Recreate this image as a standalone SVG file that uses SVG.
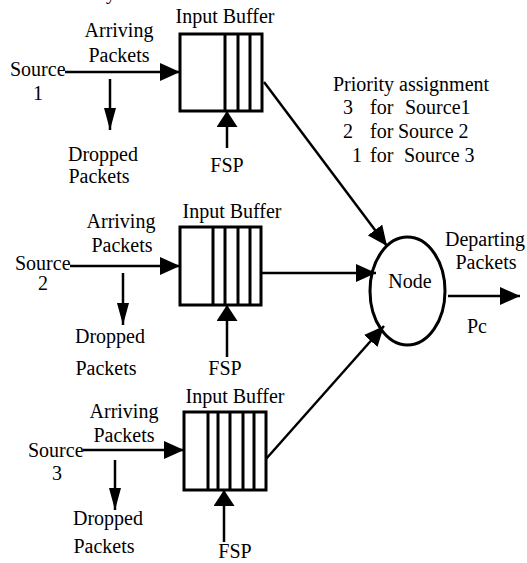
<svg xmlns="http://www.w3.org/2000/svg" width="527" height="563" viewBox="0 0 527 563">
  <style>
    text { font-family: "Liberation Serif", "Times New Roman", serif; font-size: 20px; fill: #000; }
    .mid { text-anchor: middle; }
    .wire { stroke: #000; stroke-width: 2.5; fill: none; }
    .box { stroke: #000; stroke-width: 3; fill: #fff; }
    .cell { stroke: #000; stroke-width: 3; }
    .to-big { marker-end: url(#head-big); }
    .to-drop { marker-end: url(#head-drop); }
    .to-fsp { marker-end: url(#head-fsp); }
  </style>
  <defs>
    <marker id="head-big" markerUnits="userSpaceOnUse" viewBox="0 0 20 18" refX="20" refY="9" markerWidth="20" markerHeight="18" orient="auto">
      <path d="M0,0 L20,9 L0,18 z" fill="#000"/>
    </marker>
    <marker id="head-drop" markerUnits="userSpaceOnUse" viewBox="0 0 22 12" refX="22" refY="6" markerWidth="22" markerHeight="12" orient="auto">
      <path d="M0,0 L22,6 L0,12 z" fill="#000"/>
    </marker>
    <marker id="head-fsp" markerUnits="userSpaceOnUse" viewBox="0 0 16 21" refX="16" refY="10.5" markerWidth="16" markerHeight="21" orient="auto">
      <path d="M0,0 L16,10.5 L0,21 z" fill="#000"/>
    </marker>
  </defs>

  <rect width="527" height="563" fill="#fff"/>

  <!-- caption line above, only its descender shows -->
  <text x="106" y="-1">y</text>

  <!-- source 1 -->
  <g id="source1">
    <text x="10" y="76">Source</text>
    <text class="mid" x="38" y="100">1</text>
    <text class="mid" x="119" y="37">Arriving</text>
    <text class="mid" x="119" y="62">Packets</text>
    <text class="mid" x="103" y="161">Dropped</text>
    <text class="mid" x="99" y="183">Packets</text>
  </g>
  <g id="buffer1">
    <text class="mid" x="225" y="23">Input Buffer</text>
    <rect class="box" x="180" y="34" width="82" height="77"/>
    <line class="cell" x1="225" y1="34" x2="225" y2="111"/>
    <line class="cell" x1="238" y1="34" x2="238" y2="111"/>
    <line class="cell" x1="250" y1="34" x2="250" y2="111"/>
    <text class="mid" x="227" y="172">FSP</text>
  </g>

  <!-- source 2 -->
  <g id="source2">
    <text x="15" y="270">Source</text>
    <text class="mid" x="43" y="290">2</text>
    <text class="mid" x="121" y="228">Arriving</text>
    <text class="mid" x="122" y="252">Packets</text>
    <text class="mid" x="110" y="343">Dropped</text>
    <text class="mid" x="106" y="375">Packets</text>
  </g>
  <g id="buffer2">
    <text class="mid" x="232" y="218">Input Buffer</text>
    <rect class="box" x="180" y="227" width="81" height="78"/>
    <line class="cell" x1="213" y1="227" x2="213" y2="305"/>
    <line class="cell" x1="225" y1="227" x2="225" y2="305"/>
    <line class="cell" x1="238" y1="227" x2="238" y2="305"/>
    <line class="cell" x1="250" y1="227" x2="250" y2="305"/>
    <text class="mid" x="225" y="375">FSP</text>
  </g>

  <!-- source 3 -->
  <g id="source3">
    <text x="28" y="457">Source</text>
    <text class="mid" x="57" y="480">3</text>
    <text class="mid" x="124" y="418">Arriving</text>
    <text class="mid" x="124" y="442">Packets</text>
    <text class="mid" x="108" y="525">Dropped</text>
    <text class="mid" x="104" y="553">Packets</text>
  </g>
  <g id="buffer3">
    <text class="mid" x="235" y="403">Input Buffer</text>
    <rect class="box" x="184" y="412" width="82" height="78"/>
    <line class="cell" x1="208" y1="412" x2="208" y2="490"/>
    <line class="cell" x1="218" y1="412" x2="218" y2="490"/>
    <line class="cell" x1="230" y1="412" x2="230" y2="490"/>
    <line class="cell" x1="243" y1="412" x2="243" y2="490"/>
    <line class="cell" x1="254" y1="412" x2="254" y2="490"/>
    <text class="mid" x="235" y="558">FSP</text>
  </g>

  <!-- priority note -->
  <g id="priority">
    <text x="333" y="91">Priority assignment</text>
    <text y="114"><tspan x="343">3</tspan><tspan x="370">for</tspan><tspan x="405">Source1</tspan></text>
    <text y="138"><tspan x="343">2</tspan><tspan x="370">for</tspan><tspan x="398">Source 2</tspan></text>
    <text y="162"><tspan x="352">1</tspan><tspan x="370">for</tspan><tspan x="404">Source 3</tspan></text>
  </g>

  <!-- switching node -->
  <g id="node">
    <ellipse cx="407.5" cy="291" rx="37.5" ry="54" fill="#fff" stroke="#000" stroke-width="3"/>
    <text class="mid" x="410" y="288">Node</text>
  </g>
  <g id="output">
    <text class="mid" x="485" y="246">Departing</text>
    <text class="mid" x="486" y="269">Packets</text>
    <text class="mid" x="477" y="333">Pc</text>
  </g>

  <g id="connectors">
    <line class="wire to-big" x1="65" y1="72" x2="180" y2="72"/>
    <line class="wire to-drop" x1="110" y1="79" x2="110" y2="130"/>
    <line class="wire to-fsp" x1="227" y1="148" x2="227" y2="111"/>
    <line class="wire to-big" x1="264" y1="82" x2="387" y2="246"/>

    <line class="wire to-big" x1="70" y1="266" x2="180" y2="266"/>
    <line class="wire to-drop" x1="123" y1="273" x2="123" y2="325"/>
    <line class="wire to-fsp" x1="227" y1="357" x2="227" y2="305"/>
    <line class="wire to-big" x1="261" y1="273" x2="376" y2="273"/>

    <line class="wire to-big" x1="83" y1="450" x2="184" y2="450"/>
    <line class="wire to-drop" x1="115" y1="460" x2="115" y2="510"/>
    <line class="wire to-fsp" x1="224" y1="542" x2="224" y2="490"/>
    <line class="wire to-big" x1="266" y1="459" x2="384" y2="326"/>

    <line class="wire to-big" x1="448" y1="296" x2="520" y2="296"/>
  </g>
</svg>
